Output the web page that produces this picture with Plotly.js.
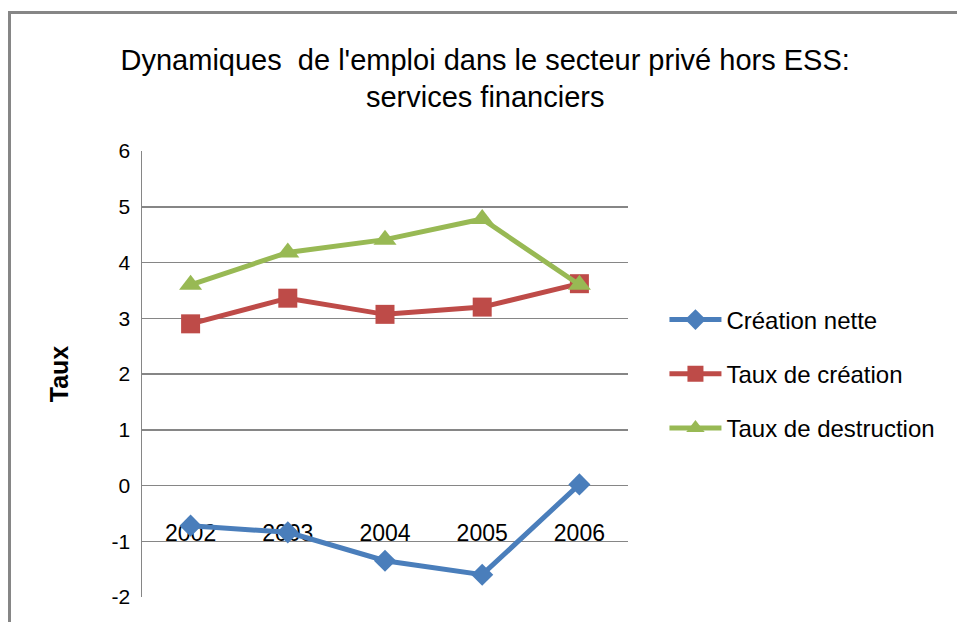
<!DOCTYPE html>
<html>
<head>
<meta charset="utf-8">
<script src="https://cdn.plot.ly/plotly-3.0.1.min.js"></script>
<style>
html,body{margin:0;padding:0;background:#fff;overflow:hidden;}
#chart{width:957px;height:622px;}
</style>
</head>
<body>
<div id="chart"></div>
<script>
const years = ['2002', '2003', '2004', '2005', '2006'];
const creationNette = [-0.72, -0.84, -1.35, -1.6, 0.02];
const tauxCreation = [2.9, 3.36, 3.07, 3.2, 3.62];
const tauxDestruction = [3.6, 4.18, 4.41, 4.78, 3.6];
const seriesNames = ['Création nette', 'Taux de création', 'Taux de destruction'];
const yTicks = [-2, -1, 0, 1, 2, 3, 4, 5, 6];

const colors = ['#4A7EBB', '#BE4B48', '#98B954'];
const symbols = ['diamond', 'square', 'triangle-up'];
const sizes = [17, 19, 20];
const data = [creationNette, tauxCreation, tauxDestruction].map((vals, i) => ({
  type: 'scatter', mode: 'lines+markers',
  x: years, y: vals, name: seriesNames[i], legendgroup: 'g' + i,
  line: {color: colors[i], width: 5},
  marker: {color: colors[i], symbol: symbols[i], size: sizes[i]},
  cliponaxis: false
}));

const W = 957, H = 622, L = 142, R = 329, T = 151, B = 25;
const pw = W - L - R, ph = H - T - B;
const px = v => (v - L) / pw;
const py = v => (H - B - v) / ph;

const layout = {
  width: W, height: H,
  paper_bgcolor: '#fff', plot_bgcolor: 'rgba(0,0,0,0)',
  margin: {l: L, r: R, t: T, b: B},
  font: {family: 'Liberation Sans, Arial, sans-serif', color: '#000'},
  title: {
    text: "Dynamiques\u00a0 de l'emploi dans le secteur privé hors ESS:<br>services financiers",
    font: {family: 'Liberation Sans, Arial, sans-serif', size: 29, color: '#000'},
    x: 0.507, xanchor: 'center', xref: 'container',
    y: 0.888, yanchor: 'top', yref: 'container'
  },
  xaxis: {
    type: 'category', range: [-0.5, 4.5],
    anchor: 'free', position: 0.25,
    showgrid: false, zeroline: false, showline: false,
    ticks: 'outside', ticklen: 27, tickcolor: 'rgba(0,0,0,0)',
    tickfont: {size: 23, family: 'Liberation Sans, Arial, sans-serif'},
    layer: 'below traces', fixedrange: true
  },
  yaxis: {
    range: [-2, 6], tickvals: yTicks, ticktext: yTicks.map(String),
    showgrid: true, gridcolor: '#868686', gridwidth: 1.5,
    zeroline: false, showline: true, linecolor: '#868686', linewidth: 1.5,
    ticks: '', ticklabelstandoff: 6,
    tickfont: {size: 21, family: 'Liberation Sans, Arial, sans-serif'},
    title: {text: '<b>Taux</b>', font: {size: 25, family: 'Liberation Sans, Arial, sans-serif'}, standoff: 36},
    fixedrange: true
  },
  shapes: [
    {type: 'rect', xref: 'paper', yref: 'paper', x0: px(8), x1: px(W + 5), y0: py(14), y1: py(11),
     fillcolor: '#868686', line: {width: 0}, layer: 'above'},
    {type: 'rect', xref: 'paper', yref: 'paper', x0: px(8), x1: px(11), y0: py(H + 5), y1: py(11),
     fillcolor: '#868686', line: {width: 0}, layer: 'above'}
  ],
  showlegend: true,
  legend: {
    x: 1.075, xanchor: 'left', y: 0.5, yanchor: 'middle',
    font: {size: 24, family: 'Liberation Sans, Arial, sans-serif'},
    itemwidth: 52, tracegroupgap: 20, bgcolor: 'rgba(0,0,0,0)'
  }
};

Plotly.newPlot('chart', data, layout, {staticPlot: true});
</script>
</body>
</html>
